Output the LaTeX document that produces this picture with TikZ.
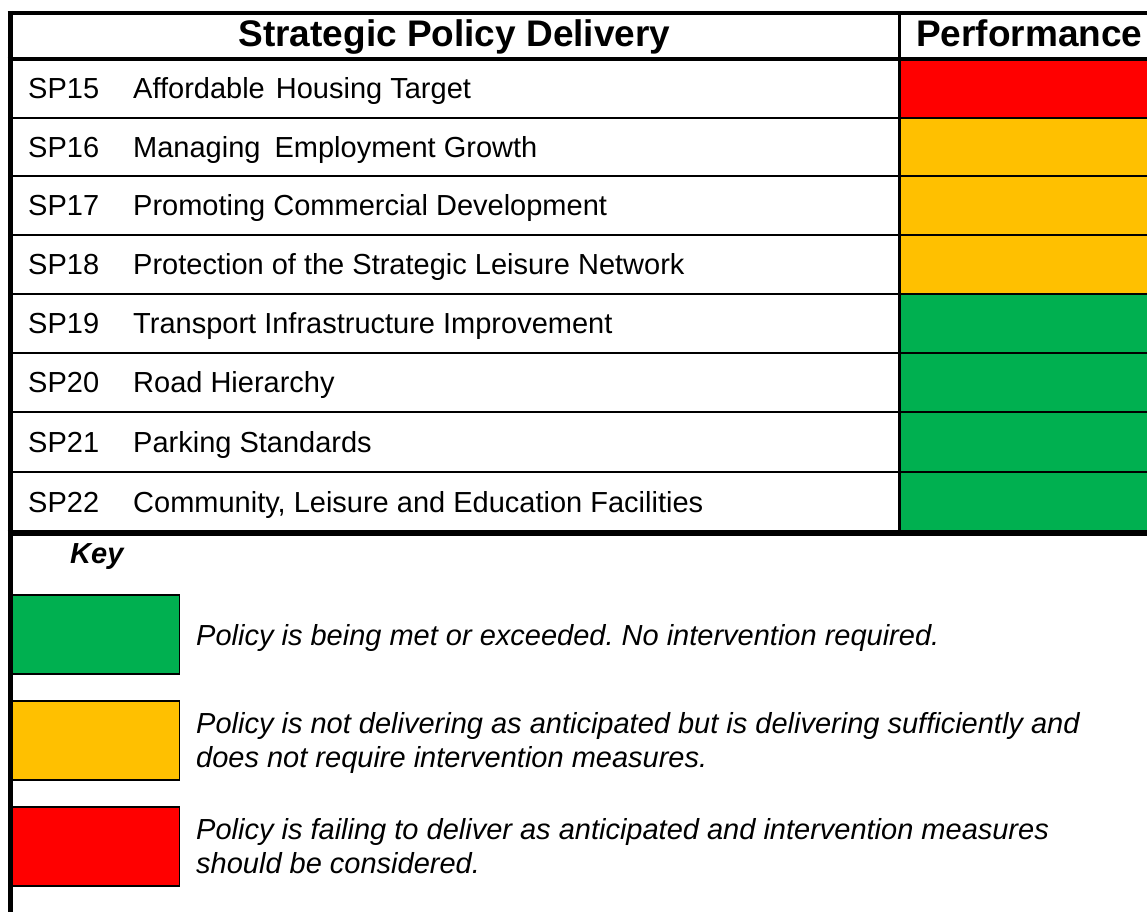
\documentclass[tikz,border=0pt]{standalone}
\usepackage{fontspec}
\setmainfont{Liberation Sans}
\frenchspacing
\definecolor{pgreen}{HTML}{00B050}
\definecolor{pamber}{HTML}{FFC000}
\definecolor{pred}{HTML}{FF0000}
\begin{document}
\begin{tikzpicture}[x=1pt,y=-1pt,
  body/.style={inner sep=0pt, font=\fontsize{29}{34}\selectfont, anchor=base west},
  keytext/.style={inner sep=0pt, font=\fontsize{29}{34}\selectfont\itshape, anchor=base west},
  headtext/.style={inner sep=0pt, font=\fontsize{37}{42}\selectfont\bfseries},
  keybox/.style={draw=black, line width=1.5pt, inner sep=0pt, anchor=north west, minimum width=168.5pt, minimum height=79pt},
  perf/.style={inner sep=0pt, anchor=north west, minimum width=247pt},
  thickrule/.style={line width=4pt},
  thinrule/.style={line width=2.5pt}]
\useasboundingbox (0,0) rectangle (1147,912);
\fill[white] (0,0) rectangle (1147,912);

% performance cells
\node[perf, fill=pred,   minimum height=59pt] (p15) at (900,59) {};
\node[perf, fill=pamber, minimum height=58pt] (p16) at (900,118) {};
\node[perf, fill=pamber, minimum height=59pt] (p17) at (900,176) {};
\node[perf, fill=pamber, minimum height=59pt] (p18) at (900,235) {};
\node[perf, fill=pgreen, minimum height=59pt] (p19) at (900,294) {};
\node[perf, fill=pgreen, minimum height=59pt] (p20) at (900,353) {};
\node[perf, fill=pgreen, minimum height=60pt] (p21) at (900,412) {};
\node[perf, fill=pgreen, minimum height=61pt] (p22) at (900,472) {};

% rules
\draw[thickrule] (7.5,13) -- (1147,13);
\draw[thickrule] (7.5,59) -- (1147,59);
\foreach \yy in {118,176,235,294,353,412,472}
  \draw[thinrule] (10,\yy) -- (1147,\yy);
\draw[line width=6pt] (7.5,533) -- (1147,533);
\draw[line width=3pt] (899.5,13) -- (899.5,533);

% key boxes
\node[keybox, fill=pgreen] (kg) at (10,594) {};
\node[keybox, fill=pamber] (ka) at (10,700) {};
\node[keybox, fill=pred]   (kr) at (10,806) {};

\draw[line width=5pt] (10,11) -- (10,912);

% header
\node[headtext, anchor=base] (hd1) at (454.5,47) {Strategic Policy Delivery};
\node[headtext, anchor=base west] (hd2) at (916,47) {Performance};

% rows
\node[body] (c15) at (28,99) {SP15};
\node[body] (d15) at (133,99) {Affordable\hspace{3pt} Housing Target};
\node[body] (c16) at (28,157.4) {SP16};
\node[body] (d16) at (133,157.4) {Managing\hspace{6pt} Employment Growth};
\node[body] (c17) at (28,215.9) {SP17};
\node[body] (d17) at (133,215.9) {Promoting Commercial Development};
\node[body] (c18) at (28,274.9) {SP18};
\node[body] (d18) at (133,274.9) {Protection of the Strategic Leisure Network};
\node[body] (c19) at (28,333.9) {SP19};
\node[body] (d19) at (133,333.9) {Transport Infrastructure Improvement};
\node[body] (c20) at (28,392.9) {SP20};
\node[body] (d20) at (133,392.9) {Road Hierarchy};
\node[body] (c21) at (28,452.4) {SP21};
\node[body] (d21) at (133,452.4) {Parking Standards};
\node[body] (c22) at (28,512.9) {SP22};
\node[body] (d22) at (133,512.9) {Community, Leisure and Education Facilities};

% key
\node[inner sep=0pt, anchor=base west, font=\fontsize{29}{34}\selectfont\bfseries\itshape] (key) at (70,563) {Key};
\node[keytext] (kt1) at (196,645.7) {Policy is being met or exceeded. No intervention required.};
\node[keytext] (kt2a) at (196,733) {Policy is not delivering as anticipated but is delivering sufficiently and};
\node[keytext] (kt2b) at (196,767) {does not require intervention measures.};
\node[keytext] (kt3a) at (196,839) {Policy is failing to deliver as anticipated and intervention measures};
\node[keytext] (kt3b) at (196,873) {should be considered.};
\end{tikzpicture}
\end{document}
